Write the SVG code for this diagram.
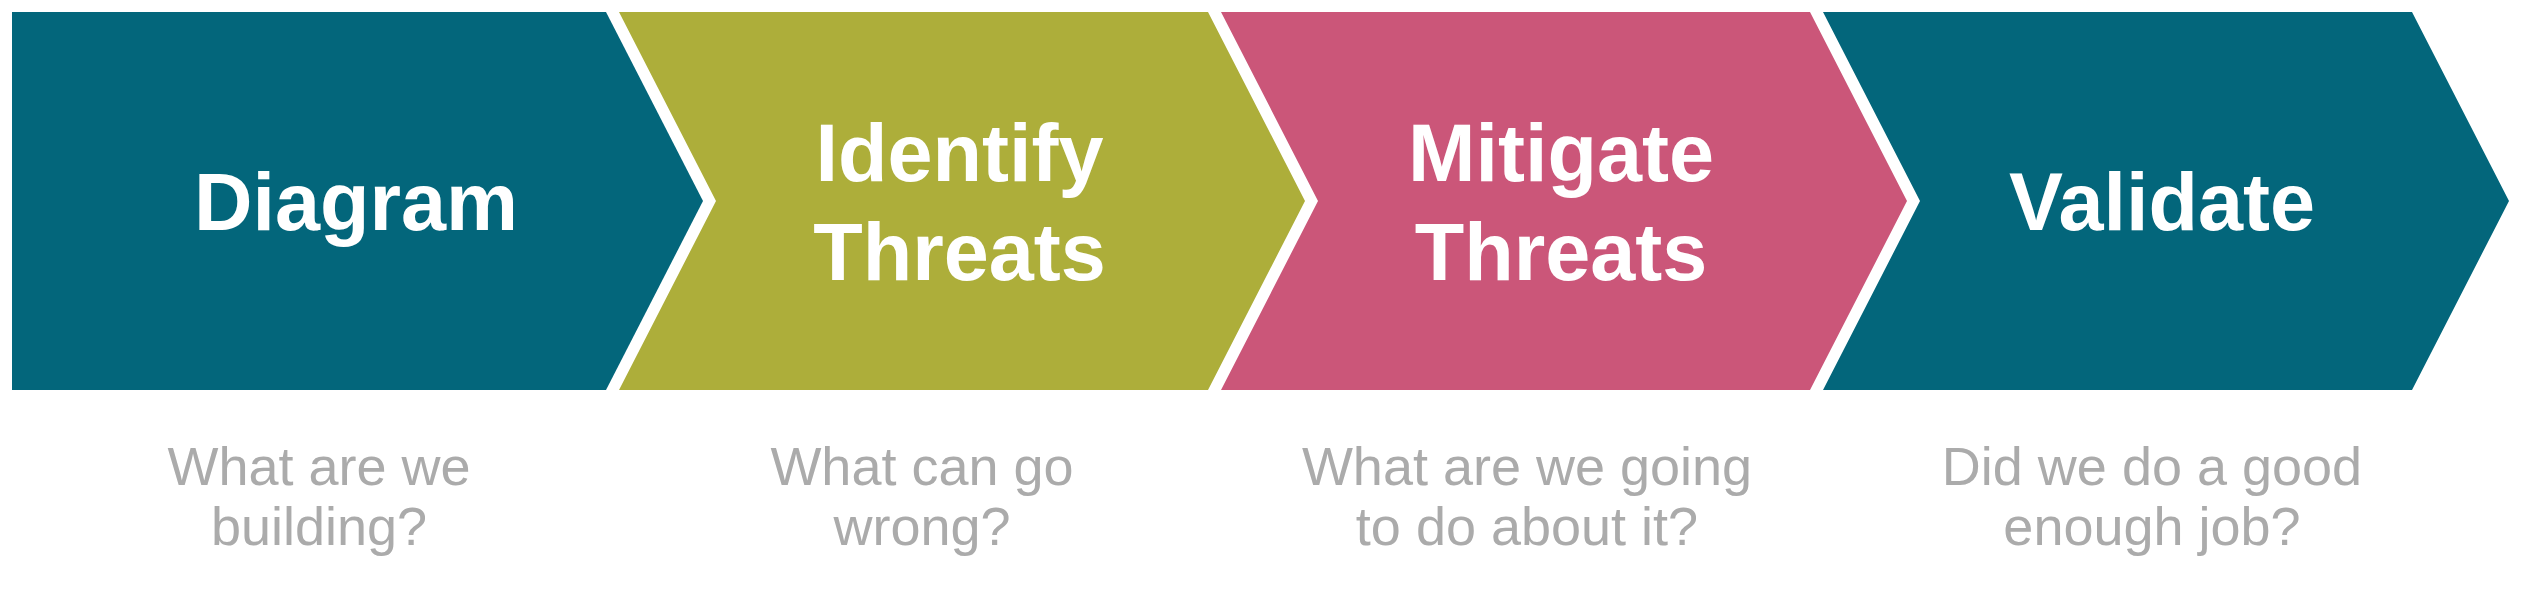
<svg xmlns="http://www.w3.org/2000/svg" width="2523" height="591" viewBox="0 0 2523 591">
<style>
.teal{fill:#03667B}
.olive{fill:#ADAE3A}
.pink{fill:#CB5679}
.title{font-family:"Liberation Sans",Arial,sans-serif;font-weight:bold;font-size:81px;fill:#FFFFFF;text-anchor:middle}
.sub{font-family:"Liberation Sans",Arial,sans-serif;font-size:54px;fill:#ABABAB;text-anchor:middle}
</style>
<rect width="2523" height="591" fill="#FFFFFF"/>
<g id="connectors"></g>
<g id="step-diagram">
<polygon class="teal" points="12,12 606,12 703,201 606,390 12,390"/>
<text class="title" x="356" y="230">Diagram</text>
<text class="sub" x="319" y="485">What are we</text>
<text class="sub" x="319" y="545">building?</text>
</g>
<g id="step-identify">
<polygon class="olive" points="619,12 1208,12 1305,201 1208,390 619,390 716,201"/>
<text class="title" x="959.5" y="181">Identify</text>
<text class="title" x="959.5" y="279.5">Threats</text>
<text class="sub" x="922" y="485">What can go</text>
<text class="sub" x="922" y="545">wrong?</text>
</g>
<g id="step-mitigate">
<polygon class="pink" points="1221,12 1810,12 1907,201 1810,390 1221,390 1318,201"/>
<text class="title" x="1561" y="181">Mitigate</text>
<text class="title" x="1561" y="279.5">Threats</text>
<text class="sub" x="1527" y="485">What are we going</text>
<text class="sub" x="1527" y="545">to do about it?</text>
</g>
<g id="step-validate">
<polygon class="teal" points="1823,12 2412,12 2509,201 2412,390 1823,390 1920,201"/>
<text class="title" x="2162" y="230">Validate</text>
<text class="sub" x="2152" y="485">Did we do a good</text>
<text class="sub" x="2152" y="545">enough job?</text>
</g>
</svg>
